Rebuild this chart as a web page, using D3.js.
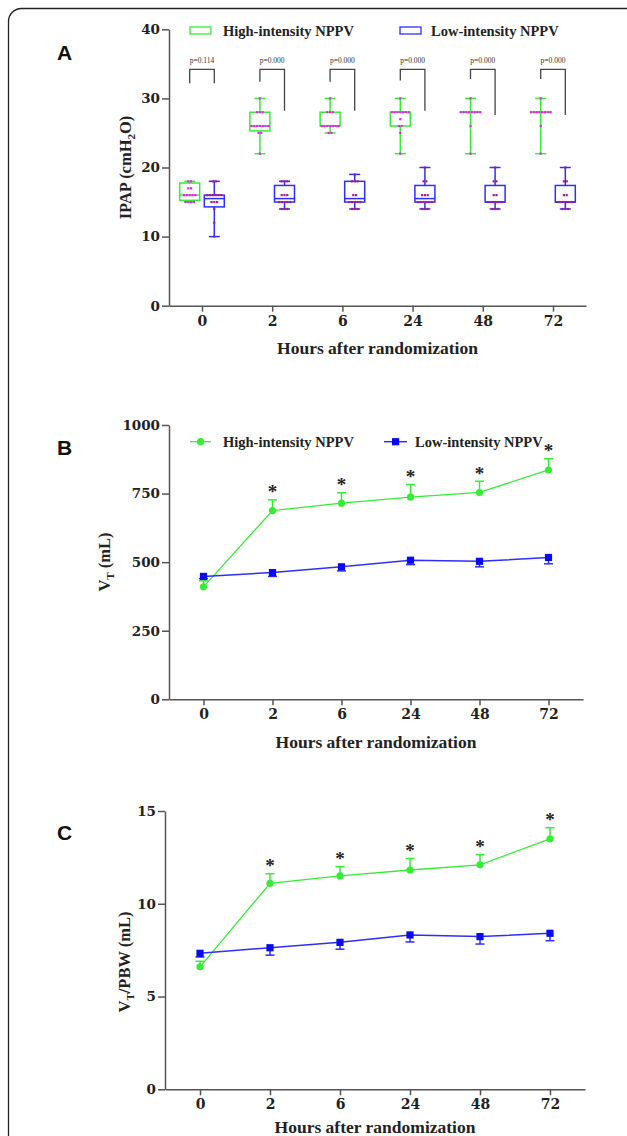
<!DOCTYPE html>
<html>
<head>
<meta charset="utf-8">
<script src="https://cdn.jsdelivr.net/npm/d3@7"></script>
<style>
  body { margin: 0; background: #fff; }
  svg { display: block; }
</style>
</head>
<body>
<svg id="chart" width="627" height="1136"></svg>
<script>
const hours = ["0", "2", "6", "24", "48", "72"];
const groupNames = ["High-intensity NPPV", "Low-intensity NPPV"];

// Panel A - IPAP box plots: [min, q1, median, q3, max]
const ipapHigh = [[15, 15.25, 16, 17.75, 18], [22, 25.3, 26, 28, 30], [25, 26, 26, 28, 30],
                  [22, 26, 28, 28, 30], [22, 28, 28, 28, 30], [22, 28, 28, 28, 30]];
const ipapLow = [[10, 14.3, 15.5, 16, 18], [14, 15, 15.5, 17.4, 18], [14, 15, 15.5, 18, 19],
                 [14, 15, 15.5, 17.4, 20], [14, 15, 15, 17.4, 20], [14, 15, 15, 17.4, 20]];
// individual patients, as [value, count]
const ipapHighDots = [
  [[18, 2], [17, 2], [16, 5], [15, 4]],
  [[30, 1], [28, 3], [26, 7], [25, 2], [22, 1]],
  [[30, 1], [28, 3], [26, 7], [25, 2]],
  [[30, 1], [28, 7], [27, 1], [26, 2], [25, 1], [22, 1]],
  [[30, 1], [28, 8], [26, 1], [22, 1]],
  [[30, 1], [28, 8], [26, 1], [22, 1]]
];
const ipapLowDots = [
  [[18, 2], [16, 6], [15, 3], [14, 1], [12, 1], [10, 1]],
  [[18, 3], [16, 3], [15, 5], [14, 3]],
  [[19, 1], [18, 3], [16, 2], [15, 5], [14, 3]],
  [[20, 1], [18, 2], [16, 3], [15, 6], [14, 3]],
  [[20, 1], [18, 2], [16, 2], [15, 6], [14, 3]],
  [[20, 1], [18, 2], [16, 2], [15, 6], [14, 3]]
];
const pValues = ["p=0.114", "p=0.000", "p=0.000", "p=0.000", "p=0.000", "p=0.000"];
const bracketTop = 34.2;
const bracketLeftEnd = [32.2, 32.4, 32.4, 32.6, 32.8, 32.8];
const bracketRightEnd = [32.2, 28.2, 28.2, 28.2, 27.6, 27.6];

// Panel B - VT (mL), mean and error
const vtHigh = [410, 688, 715, 737, 754, 836];
const vtHighErr = [22, 39, 38, 46, 41, 41];
const vtLow = [448, 462, 483, 507, 503, 517];
const vtLowErr = [8, 14, 15, 16, 20, 23];

// Panel C - VT/PBW (mL)
const pbwHigh = [6.6, 11.1, 11.5, 11.82, 12.1, 13.5];
const pbwHighErr = [0.3, 0.52, 0.5, 0.62, 0.55, 0.6];
const pbwLow = [7.33, 7.63, 7.92, 8.32, 8.23, 8.41];
const pbwLowErr = [0.2, 0.4, 0.37, 0.38, 0.4, 0.4];
const starred = [false, true, true, true, true, true];

const yTicksA = [0, 10, 20, 30, 40];
const yTicksB = [0, 250, 500, 750, 1000];
const yTicksC = [0, 5, 10, 15];

const green = "#33ee33", blue = "#2e2eff", blueMark = "#0a0af0";
const serif = "'Liberation Serif', 'Times New Roman', serif";
const numFont = "'DejaVu Serif', serif";

const svg = d3.select("#chart");

// outer rounded frame (cut by the page edge)
svg.append("rect")
  .attr("x", 8.5).attr("y", 8.5).attr("width", 650).attr("height", 1200).attr("rx", 13)
  .attr("fill", "none").attr("stroke", "#222").attr("stroke-width", 1.3);

function drawAxes(x, y, yTicks, letter, letterY, yTitleX, yTitleParts, yTitleY, xTitleGap) {
  const g = svg.append("g");
  const xAxis = g.append("g")
    .attr("transform", `translate(0,${y.range()[0]})`)
    .call(d3.axisBottom(x).tickSize(6).tickSizeOuter(0).tickPadding(4));
  const yAxis = g.append("g")
    .attr("transform", `translate(${x.range()[0]},0)`)
    .call(d3.axisLeft(y).tickValues(yTicks).tickSize(7).tickSizeOuter(0).tickPadding(2).tickFormat(d3.format("d")));
  [xAxis, yAxis].forEach(a => {
    a.selectAll("path, line").attr("stroke", "#555").attr("stroke-width", 1.5);
    a.selectAll("text").attr("font-family", numFont).attr("font-weight", "bold")
      .attr("font-size", 13.5).attr("fill", "#222");
  });
  xAxis.selectAll("text").attr("font-size", 14);

  // x title
  g.append("text")
    .attr("x", (x.range()[0] + x.range()[1]) / 2)
    .attr("y", y.range()[0] + xTitleGap)
    .attr("text-anchor", "middle")
    .attr("font-family", serif).attr("font-weight", "bold").attr("font-size", 17.5).attr("fill", "#222")
    .text("Hours after randomization");

  // y title with subscripts
  const yt = g.append("text")
    .attr("transform", `translate(${yTitleX},${yTitleY}) rotate(-90)`)
    .attr("text-anchor", "middle")
    .attr("font-family", serif).attr("font-weight", "bold").attr("font-size", 16.5).attr("fill", "#222");
  yTitleParts.forEach(p => {
    const t = yt.append("tspan").text(p.t);
    if (p.sub) t.attr("font-size", 11).attr("dy", 4);
    if (p.back) t.attr("dy", -4);
  });

  // panel letter
  svg.append("text")
    .attr("x", 57).attr("y", letterY)
    .attr("font-family", "'Liberation Sans', Arial, sans-serif").attr("font-weight", "bold")
    .attr("font-size", 21).attr("fill", "#111")
    .text(letter);
}

// ---------------- Panel A ----------------
const xA = d3.scalePoint().domain(hours).range([169, 586]).padding(0.47);
const yA = d3.scaleLinear().domain([0, 40]).range([305.7, 29.3]);
const sub = d3.scaleBand().domain(["high", "low"]).range([-24.6, 24.6]);
const subC = k => sub(k) + sub.bandwidth() / 2;

drawAxes(xA, yA, yTicksA, "A", 60, 131,
  [{ t: "IPAP (cmH" }, { t: "2", sub: true }, { t: "O)", back: true }], 167.5, 48.5);

const boxes = svg.append("g");
[["high", ipapHigh, ipapHighDots, green, "#f020f0"], ["low", ipapLow, ipapLowDots, blue, "#a01c96"]]
  .forEach(([key, stats, dots, col, dotCol]) => {
    stats.forEach((s, i) => {
      const cx = xA(hours[i]) + subC(key);
      const [mn, q1, md, q3, mx] = s;
      const bg = boxes.append("g").attr("stroke", col).attr("stroke-width", 1.5).attr("fill", "none");
      bg.append("line").attr("x1", cx).attr("x2", cx).attr("y1", yA(mx)).attr("y2", yA(q3));
      bg.append("line").attr("x1", cx).attr("x2", cx).attr("y1", yA(q1)).attr("y2", yA(mn));
      bg.append("line").attr("x1", cx - 5.5).attr("x2", cx + 5.5).attr("y1", yA(mx)).attr("y2", yA(mx));
      bg.append("line").attr("x1", cx - 5.5).attr("x2", cx + 5.5).attr("y1", yA(mn)).attr("y2", yA(mn));
      bg.append("rect").attr("x", cx - 10).attr("width", 20)
        .attr("y", yA(q3)).attr("height", Math.max(0.01, yA(q1) - yA(q3)));
      bg.append("line").attr("x1", cx - 10).attr("x2", cx + 10).attr("y1", yA(md)).attr("y2", yA(md));
      dots[i].forEach(([v, n]) => {
        d3.range(n).forEach(j => {
          boxes.append("rect")
            .attr("x", cx + (j - (n - 1) / 2) * 2.8 - 1.1).attr("y", yA(v) - 1.1)
            .attr("width", 2.2).attr("height", 2.2).attr("fill", dotCol);
        });
      });
    });
  });

// significance brackets
const br = svg.append("g");
hours.forEach((h, i) => {
  const xl = xA(h) + subC("high"), xr = xA(h) + subC("low");
  br.append("path")
    .attr("d", `M${xl},${yA(bracketLeftEnd[i])}V${yA(bracketTop)}H${xr}V${yA(bracketRightEnd[i])}`)
    .attr("fill", "none").attr("stroke", "#444").attr("stroke-width", 1.3);
  br.append("text")
    .attr("x", (xl + xr) / 2).attr("y", yA(bracketTop) - 6)
    .attr("text-anchor", "middle").attr("font-family", serif).attr("font-size", 7.5).attr("fill", "#333")
    .text(pValues[i]);
});

// legend A
const legA = svg.append("g");
[[190, 223, green], [400, 431, blue]].forEach(([bx, tx, col], i) => {
  legA.append("rect").attr("x", bx).attr("y", 27).attr("width", 21).attr("height", 7)
    .attr("fill", "none").attr("stroke", col).attr("stroke-width", 1.3);
  legA.append("text").attr("x", tx).attr("y", 35.5)
    .attr("font-family", serif).attr("font-weight", "bold").attr("font-size", 14.5).attr("fill", "#222")
    .text(groupNames[i]);
});

// ---------------- Line panels ----------------
function linePanel(x, y, hi, hiErr, lo, loErr) {
  const g = svg.append("g");
  const line = d3.line().x((d, i) => x(hours[i])).y(d => y(d));

  // high: error bars upwards
  hi.forEach((v, i) => {
    const cx = x(hours[i]), top = y(v + hiErr[i]);
    g.append("line").attr("x1", cx).attr("x2", cx).attr("y1", y(v)).attr("y2", top)
      .attr("stroke", green).attr("stroke-width", 1.5);
    g.append("line").attr("x1", cx - 4.5).attr("x2", cx + 4.5).attr("y1", top).attr("y2", top)
      .attr("stroke", green).attr("stroke-width", 1.5);
    if (starred[i]) {
      g.append("text").attr("x", cx).attr("y", top - 1.5)
        .attr("text-anchor", "middle").attr("font-family", serif).attr("font-weight", "bold")
        .attr("font-size", 19).attr("fill", "#222").text("*");
    }
  });
  g.append("path").datum(hi).attr("d", line).attr("fill", "none").attr("stroke", green).attr("stroke-width", 1.3);
  g.selectAll(".hiPt").data(hi).join("circle").attr("class", "hiPt")
    .attr("cx", (d, i) => x(hours[i])).attr("cy", d => y(d)).attr("r", 3.6).attr("fill", green);

  // low: error bars downwards
  lo.forEach((v, i) => {
    const cx = x(hours[i]), bot = y(v - loErr[i]);
    g.append("line").attr("x1", cx).attr("x2", cx).attr("y1", y(v)).attr("y2", bot)
      .attr("stroke", blue).attr("stroke-width", 1.5);
    g.append("line").attr("x1", cx - 4.5).attr("x2", cx + 4.5).attr("y1", bot).attr("y2", bot)
      .attr("stroke", blue).attr("stroke-width", 1.5);
  });
  g.append("path").datum(lo).attr("d", line).attr("fill", "none").attr("stroke", blue).attr("stroke-width", 1.5);
  g.selectAll(".loPt").data(lo).join("rect").attr("class", "loPt")
    .attr("x", (d, i) => x(hours[i]) - 3.6).attr("y", d => y(d) - 3.6)
    .attr("width", 7.2).attr("height", 7.2).attr("fill", blueMark);
}

// Panel B
const xB = d3.scalePoint().domain(hours).range([169, 583]).padding(0.5);
const yB = d3.scaleLinear().domain([0, 1000]).range([699.3, 425]);
drawAxes(xB, yB, yTicksB, "B", 455, 110,
  [{ t: "V" }, { t: "T", sub: true }, { t: " (mL)", back: true }], 562, 48.5);
linePanel(xB, yB, vtHigh, vtHighErr, vtLow, vtLowErr);

// legend B
const legB = svg.append("g");
legB.append("line").attr("x1", 190).attr("x2", 211).attr("y1", 441.7).attr("y2", 441.7)
  .attr("stroke", green).attr("stroke-width", 1.3);
legB.append("circle").attr("cx", 200.5).attr("cy", 441.7).attr("r", 3.6).attr("fill", green);
legB.append("line").attr("x1", 384).attr("x2", 407).attr("y1", 441.7).attr("y2", 441.7)
  .attr("stroke", blue).attr("stroke-width", 1.5);
legB.append("rect").attr("x", 392).attr("y", 438.1).attr("width", 7.2).attr("height", 7.2).attr("fill", blueMark);
[[223, 0], [415, 1]].forEach(([tx, i]) => {
  legB.append("text").attr("x", tx).attr("y", 446.5)
    .attr("font-family", serif).attr("font-weight", "bold").attr("font-size", 14.5).attr("fill", "#222")
    .text(groupNames[i]);
});

// Panel C (its x title sits right at the page bottom)
const xC = d3.scalePoint().domain(hours).range([165, 585]).padding(0.5);
const yC = d3.scaleLinear().domain([0, 15]).range([1089.3, 811]);
drawAxes(xC, yC, yTicksC, "C", 840, 130,
  [{ t: "V" }, { t: "T", sub: true }, { t: "/PBW (mL)", back: true }], 962, 43.5);
linePanel(xC, yC, pbwHigh, pbwHighErr, pbwLow, pbwLowErr);
</script>
</body>
</html>
